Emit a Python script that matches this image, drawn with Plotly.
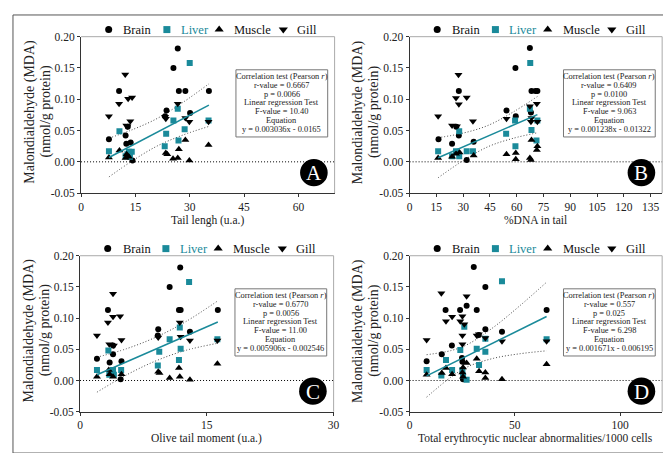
import plotly.graph_objects as go

W, H = 671, 453
FONT = "Liberation Serif, Times New Roman, serif"
TEAL = "#1A8A9A"
DARK = "#333333"

# ---------------- data ----------------
series_names = ["Brain", "Liver", "Muscle", "Gill"]
y_ticks = [-0.05, 0.00, 0.05, 0.10, 0.15, 0.20]

# Panel A: Tail length
a_brain_x = [26.7, 25.5, 10.5, 27.0, 28.8, 35.3, 23.6, 23.2, 30.1, 12.9, 12.3, 7.7, 12.5, 13.7, 14.2]
a_brain_y = [0.181, 0.150, 0.113, 0.113, 0.113, 0.113, 0.082, 0.073, 0.078, 0.056, 0.042, 0.036, 0.029, 0.031, 0.002]
a_liver_x = [30.0, 10.6, 7.7, 12.3, 13.2, 14.0, 12.8, 23.5, 25.5, 26.7, 23.1, 28.6, 26.9, 35.2, 13.5]
a_liver_y = [0.158, 0.049, 0.017, 0.009, 0.016, 0.016, 0.012, 0.045, 0.066, 0.085, 0.025, 0.052, 0.034, 0.066, 0.008]
a_muscle_x = [7.7, 10.6, 12.6, 13.2, 23.4, 23.8, 25.4, 26.7, 27.0, 28.8, 29.9, 35.2, 12.3]
a_muscle_y = [0.007, 0.018, 0.012, 0.008, 0.014, 0.012, 0.005, 0.006, 0.020, 0.035, 0.002, 0.027, 0.006]
a_gill_x = [12.2, 10.5, 13.0, 14.1, 7.7, 13.6, 12.8, 23.4, 26.7, 28.8, 29.9, 35.2, 23.2, 12.5]
a_gill_y = [0.1395, 0.093, 0.101, 0.103, 0.073, 0.065, 0.057, 0.069, 0.093, 0.070, 0.064, 0.064, 0.072, 0.058]

# Panel B: %DNA in tail
b_brain_x = [67.4, 59.3, 27.6, 68.3, 71.6, 70.5, 54.3, 59.5, 68.0, 26.2, 27.6, 16.2, 23.8, 35.9, 32.0]
b_brain_y = [0.182, 0.150, 0.113, 0.113, 0.113, 0.113, 0.082, 0.073, 0.079, 0.056, 0.042, 0.036, 0.029, 0.032, 0.003]
b_liver_x = [67.6, 27.8, 16.0, 23.8, 26.0, 27.8, 32.0, 35.5, 54.1, 59.1, 67.4, 59.3, 68.3, 71.1, 71.6]
b_liver_y = [0.158, 0.049, 0.017, 0.009, 0.017, 0.009, 0.017, 0.017, 0.045, 0.066, 0.085, 0.025, 0.051, 0.034, 0.066]
b_muscle_x = [16.0, 23.8, 26.0, 28.0, 35.9, 54.3, 59.5, 59.5, 67.4, 68.0, 68.3, 71.6, 71.3]
b_muscle_y = [0.006, 0.008, 0.013, 0.015, 0.010, 0.012, 0.014, 0.004, 0.006, 0.003, 0.035, 0.025, 0.019]
b_gill_x = [16.0, 27.4, 26.0, 32.0, 27.6, 23.8, 35.5, 54.3, 67.4, 68.3, 68.0, 71.3, 71.6, 26.5]
b_gill_y = [0.073, 0.139, 0.102, 0.103, 0.092, 0.058, 0.065, 0.069, 0.089, 0.070, 0.064, 0.093, 0.064, 0.057]

# Panel C: Olive tail moment
c_brain_x = [11.85, 10.6, 3.3, 11.7, 11.9, 16.3, 9.25, 9.2, 13.0, 3.9, 3.9, 2.0, 3.5, 4.9, 4.8]
c_brain_y = [0.181, 0.150, 0.113, 0.113, 0.113, 0.113, 0.082, 0.072, 0.078, 0.056, 0.042, 0.035, 0.029, 0.031, 0.002]
c_liver_x = [12.9, 3.35, 2.0, 3.46, 3.9, 4.0, 4.86, 9.37, 10.6, 11.8, 9.2, 11.9, 11.7, 16.25, 3.6]
c_liver_y = [0.158, 0.048, 0.017, 0.009, 0.017, 0.009, 0.017, 0.046, 0.066, 0.085, 0.024, 0.051, 0.033, 0.066, 0.013]
c_muscle_x = [2.0, 3.4, 3.5, 4.9, 9.25, 9.4, 10.6, 11.8, 11.7, 13.0, 16.25, 3.9]
c_muscle_y = [0.006, 0.017, 0.010, 0.010, 0.014, 0.012, 0.004, 0.006, 0.020, 0.001, 0.027, 0.006]
c_gill_x = [2.0, 3.9, 3.3, 3.9, 4.74, 3.46, 4.9, 9.25, 11.8, 11.9, 13.0, 16.25, 4.0]
c_gill_y = [0.072, 0.139, 0.093, 0.102, 0.103, 0.058, 0.065, 0.069, 0.093, 0.070, 0.064, 0.064, 0.056]

# Panel D: Total erythrocytic nuclear abnormalities
d_brain_x = [30.5, 36.0, 27.1, 17.1, 24.0, 31.9, 65.1, 36.0, 32.9, 43.9, 20.1, 15.3, 8.1, 24.9, 25.1, 25.4]
d_brain_y = [0.182, 0.150, 0.120, 0.113, 0.113, 0.113, 0.113, 0.082, 0.073, 0.078, 0.056, 0.042, 0.031, 0.036, 0.030, 0.002]
d_liver_x = [43.9, 8.1, 15.1, 17.3, 20.2, 24.1, 25.1, 25.4, 27.1, 26.0, 31.9, 33.0, 36.0, 36.0, 65.1]
d_liver_y = [0.159, 0.017, 0.008, 0.033, 0.017, 0.049, 0.017, 0.008, 0.001, 0.086, 0.051, 0.025, 0.067, 0.046, 0.066]
d_muscle_x = [8.1, 17.3, 20.2, 25.1, 25.4, 27.1, 31.9, 33.0, 36.0, 36.0, 43.9, 65.1, 25.4, 15.3]
d_muscle_y = [0.009, 0.020, 0.010, 0.013, 0.021, 0.028, 0.035, 0.015, 0.013, 0.004, 0.002, 0.026, 0.006, 0.012]
d_gill_x = [8.1, 15.1, 17.3, 20.2, 24.1, 25.1, 26.0, 27.1, 25.1, 31.9, 32.9, 36.0, 43.9, 65.1, 25.1]
d_gill_y = [0.065, 0.140, 0.095, 0.102, 0.095, 0.103, 0.090, 0.135, 0.058, 0.072, 0.074, 0.068, 0.063, 0.063, 0.072]

# regression (from the equations shown) and read confidence-band half widths
slopes = [0.003036, 0.001238, 0.005906, 0.001671]
intercepts = [-0.0165, -0.01322, -0.002546, -0.006195]
a_band_x = [7.7, 14, 21, 28, 35.3]
a_band_hw = [0.031, 0.025, 0.022, 0.026, 0.034]
b_band_x = [16.0, 30, 44, 58, 71.6]
b_band_hw = [0.032, 0.022, 0.017, 0.021, 0.029]
c_band_x = [2.0, 5.5, 9, 12.5, 16.3]
c_band_hw = [0.028, 0.021, 0.019, 0.023, 0.034]
d_band_x = [8.1, 20, 28, 40, 52, 65.1]
d_band_hw = [0.034, 0.021, 0.018, 0.025, 0.038, 0.055]

x_titles = ["Tail lengh (u.a.)", "%DNA in tail", "Olive tail moment (u.a.)",
            "Total erythrocytic nuclear abnormalities/1000 cells"]
x_ranges = [[0, 70], [0, 141.5], [0, 30], [0, 120]]
x_dticks = [15, 15, 15, 50]
letters = ["A", "B", "C", "D"]
stats_lines = [
    ["Correlation test (Pearson <i>r</i>)", "r-value = 0.6667", "p = 0.0066", "Linear regression Test",
     "F-value = 10.40", "Equation", "y = 0.003036x - 0.0165"],
    ["Correlation test (Pearson <i>r</i>)", "r-value = 0.6409", "p = 0.0100", "Linear regression Test",
     "F-value = 9.063", "Equation", "y = 0.001238x - 0.01322"],
    ["Correlation test (Pearson <i>r</i>)", "r-value = 0.6770", "p = 0.0056", "Linear regression Test",
     "F-value = 11.00", "Equation", "y = 0.005906x - 0.002546"],
    ["Correlation test (Pearson <i>r</i>)", "r-value = 0.557", "p = 0.025", "Linear regression Test",
     "F-value = 6.298", "Equation", "y = 0.001671x - 0.006195"],
]

panel_data = [
    [(a_brain_x, a_brain_y), (a_liver_x, a_liver_y), (a_muscle_x, a_muscle_y), (a_gill_x, a_gill_y)],
    [(b_brain_x, b_brain_y), (b_liver_x, b_liver_y), (b_muscle_x, b_muscle_y), (b_gill_x, b_gill_y)],
    [(c_brain_x, c_brain_y), (c_liver_x, c_liver_y), (c_muscle_x, c_muscle_y), (c_gill_x, c_gill_y)],
    [(d_brain_x, d_brain_y), (d_liver_x, d_liver_y), (d_muscle_x, d_muscle_y), (d_gill_x, d_gill_y)],
]
bands = [(a_band_x, a_band_hw), (b_band_x, b_band_hw), (c_band_x, c_band_hw), (d_band_x, d_band_hw)]

# ---------------- layout geometry (pixels) ----------------
boxes = [(71, 328, 23.3, 184.0), (404, 660, 23.3, 184.0),
         (70, 327, 248.3, 408.5), (404, 660, 248.3, 408.5)]
symbols = ["circle", "square", "triangle-up", "triangle-down"]
colors = ["black", TEAL, "black", "black"]
sizes = [6, 6, 7, 7]
DOT = "1px,2px"


def px(x):
    return x / W


def py(y):
    return 1 - y / H


fig = go.Figure()
shapes = []
annotations = []
TICKFONT = dict(family=FONT, size=11.5, color="#222222")

for i in range(4):
    n = "" if i == 0 else str(i + 1)
    L, R, T, B = boxes[i]
    bx, bhw = bands[i]
    fit = [slopes[i] * v + intercepts[i] for v in bx]
    for sign in (1, -1):
        fig.add_trace(go.Scatter(
            x=bx, y=[f + sign * h for f, h in zip(fit, bhw)], mode="lines",
            xaxis="x" + n, yaxis="y" + n, showlegend=False,
            line=dict(color="#444444", width=1, dash=DOT, shape="spline"), hoverinfo="skip"))
    for s in range(4):
        xs, ys = panel_data[i][s]
        fig.add_trace(go.Scatter(
            x=xs, y=ys, mode="markers", xaxis="x" + n, yaxis="y" + n, showlegend=False,
            marker=dict(symbol=symbols[s], color=colors[s], size=sizes[s], line=dict(width=0)),
            hoverinfo="skip"))
    allx = [v for s in range(4) for v in panel_data[i][s][0]]
    x0, x1 = min(allx), max(allx)
    fig.add_trace(go.Scatter(
        x=[x0, x1], y=[slopes[i] * x0 + intercepts[i], slopes[i] * x1 + intercepts[i]],
        mode="lines", xaxis="x" + n, yaxis="y" + n, showlegend=False,
        line=dict(color=TEAL, width=1.5), hoverinfo="skip"))

    axis_common = dict(showgrid=False, zeroline=False, showline=True, linecolor=DARK, linewidth=1,
                       ticks="outside", ticklen=3, tickwidth=1, tickcolor=DARK,
                       tickfont=TICKFONT, fixedrange=True)
    fig.layout["xaxis" + n] = dict(domain=[px(L), px(R)], range=x_ranges[i], tick0=0, dtick=x_dticks[i],
                                   anchor="y" + n, **axis_common)
    fig.layout["yaxis" + n] = dict(domain=[py(B), py(T)], range=[-0.05, 0.20], tickvals=y_ticks,
                                   ticktext=[f"{v:.2f}" for v in y_ticks], anchor="x" + n, **axis_common)

    shapes.append(dict(type="line", xref="paper", yref="paper", x0=px(L), x1=px(R), y0=py(T), y1=py(T),
                       line=dict(color="#AAAAAA", width=1)))
    shapes.append(dict(type="line", xref="paper", yref="paper", x0=px(R), x1=px(R), y0=py(T), y1=py(B),
                       line=dict(color="#AAAAAA", width=1)))
    shapes.append(dict(type="line", xref="x" + n + " domain", yref="y" + n, x0=0, x1=1, y0=0, y1=0,
                       line=dict(color="black", width=1, dash=DOT), layer="below"))
    cx, cy, r = R - 21, B - 21, 14
    shapes.append(dict(type="circle", xref="paper", yref="paper", x0=px(cx - r), x1=px(cx + r),
                       y0=py(cy + r), y1=py(cy - r), fillcolor="black", line=dict(width=0)))
    annotations.append(dict(xref="paper", yref="paper", x=px(cx), y=py(cy + 0.5), text=letters[i],
                            showarrow=False, font=dict(family=FONT, size=21, color="white"),
                            xanchor="center", yanchor="middle"))
    shapes.append(dict(type="rect", xref="paper", yref="paper", x0=px(R - 100), x1=px(R - 7),
                       y0=py(T + 103), y1=py(T + 34), fillcolor="white",
                       line=dict(color="#777777", width=1)))
    for k, line in enumerate(stats_lines[i]):
        annotations.append(dict(xref="paper", yref="paper", x=px(R - 53.5), y=py(T + 41 + 9 * k),
                                text=line, showarrow=False, xanchor="center", yanchor="middle",
                                font=dict(family=FONT, size=8.4, color="#222222")))
    annotations.append(dict(xref="paper", yref="paper", x=px((L + R) / 2), y=py(B + 28),
                            text=x_titles[i], showarrow=False, xanchor="center", yanchor="middle",
                            font=dict(family=FONT, size=11.5, color="#222222")))
    annotations.append(dict(xref="paper", yref="paper", x=px(L - 52), y=py((T + B) / 2 - 3),
                            text="Malondialdehyde (MDA)", showarrow=False, textangle=-90,
                            xanchor="center", yanchor="middle",
                            font=dict(family=FONT, size=14, color="#222222")))
    annotations.append(dict(xref="paper", yref="paper", x=px(L - 36), y=py((T + B) / 2 - 3),
                            text="(nmol/g protein)", showarrow=False, textangle=-90,
                            xanchor="center", yanchor="middle",
                            font=dict(family=FONT, size=14, color="#222222")))
    mk_off = [28, 87, 140, 205]
    tx_off = [41, 99, 153, 217]
    ly = T - 7.3
    for s in range(4):
        fig.add_trace(go.Scatter(x=[L + mk_off[s]], y=[ly], mode="markers", xaxis="x5", yaxis="y5",
                                 showlegend=False, hoverinfo="skip",
                                 marker=dict(symbol=symbols[s], color=colors[s], size=sizes[s] + 1,
                                             line=dict(width=0))))
        annotations.append(dict(xref="paper", yref="paper", x=px(L + tx_off[s]), y=py(ly),
                                text=series_names[s], showarrow=False, xanchor="left", yanchor="middle",
                                font=dict(family=FONT, size=12.5, color=colors[s] if s == 1 else "#111111")))

shapes.append(dict(type="rect", xref="paper", yref="paper", x0=px(2), x1=px(667), y0=py(451), y1=py(1),
                   line=dict(color="#555555", width=1)))

fig.update_layout(
    width=W, height=H, margin=dict(l=0, r=0, t=0, b=0),
    font=dict(family=FONT, size=11.5, color="#222222"),
    paper_bgcolor="white", plot_bgcolor="rgba(0,0,0,0)",
    xaxis5=dict(domain=[0, 1], range=[0, W], visible=False, fixedrange=True, anchor="y5"),
    yaxis5=dict(domain=[0, 1], range=[H, 0], visible=False, fixedrange=True, anchor="x5"),
    shapes=shapes, annotations=annotations, showlegend=False,
)
fig.update_xaxes(tickfont=TICKFONT)
fig.update_yaxes(tickfont=TICKFONT)

fig.write_html("out.html")
